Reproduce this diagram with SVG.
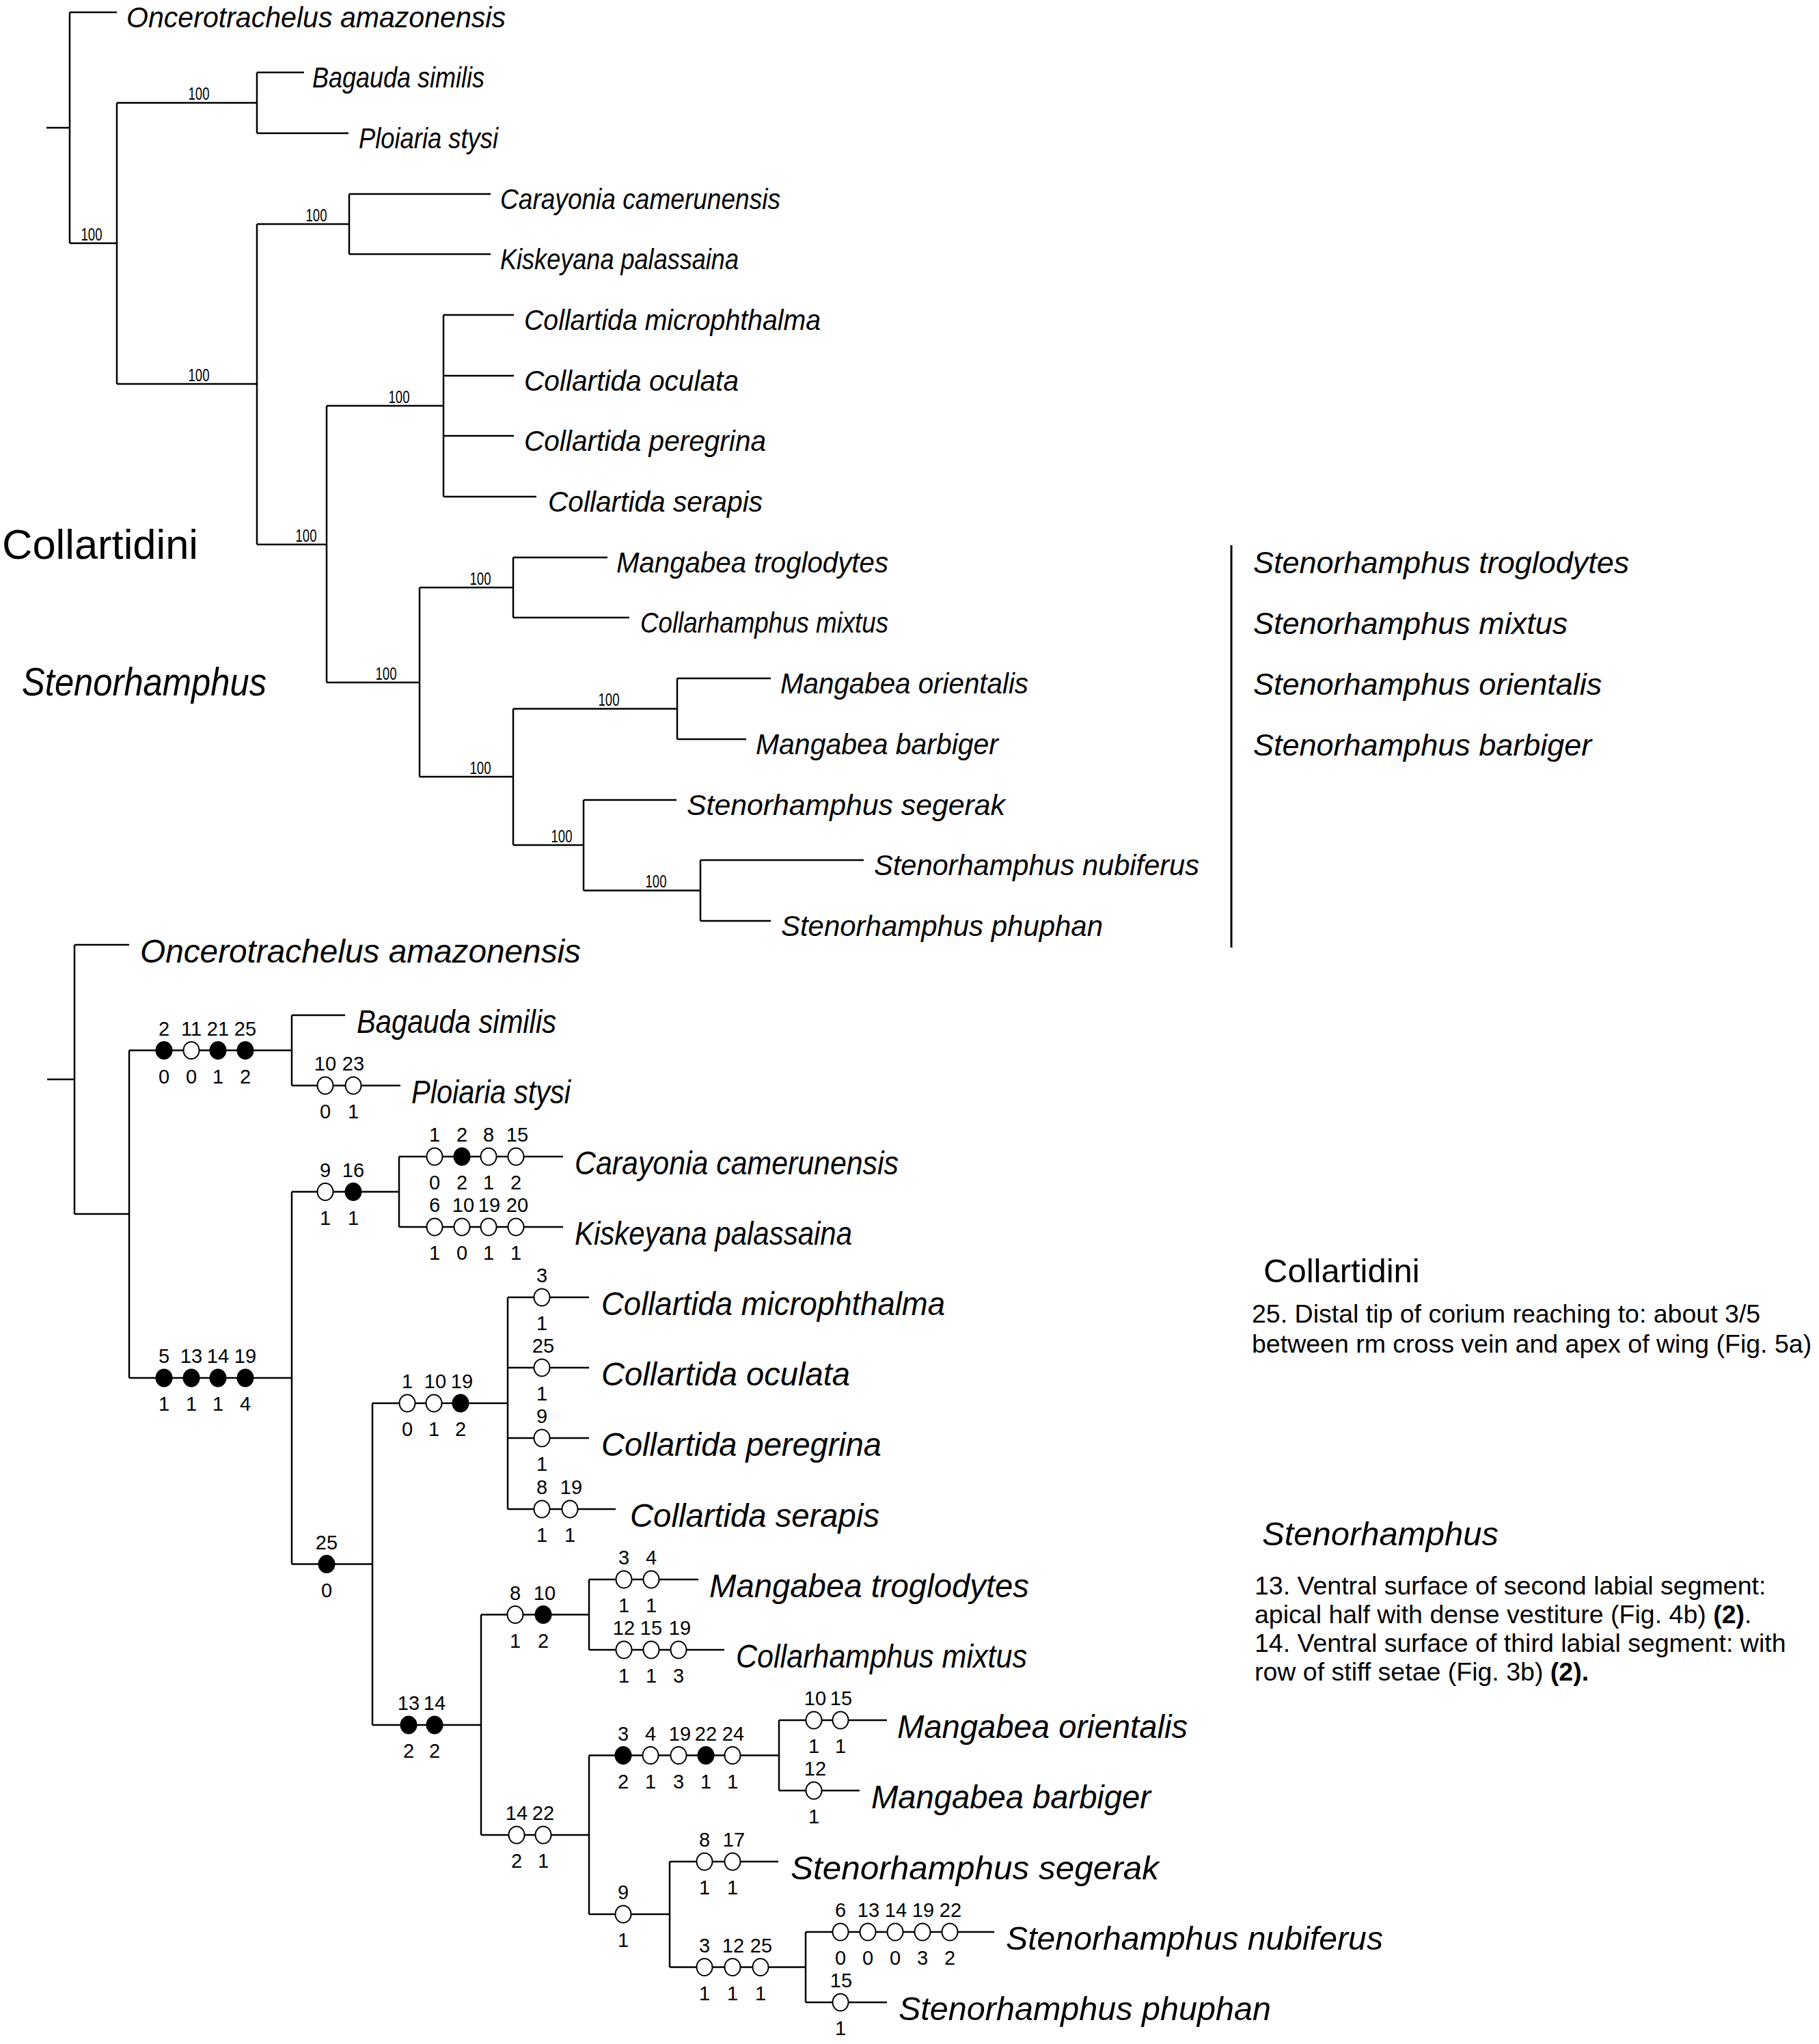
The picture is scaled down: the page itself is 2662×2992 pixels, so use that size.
<svg xmlns="http://www.w3.org/2000/svg" width="2662" height="2992" viewBox="0 0 2662 2992">
<style>
.br{stroke:#000;stroke-width:2.5;fill:none}
.bar{stroke:#000;stroke-width:3;fill:none}
.t{font-family:"Liberation Sans",Arial,sans-serif;font-style:italic;fill:#000}
.tt{font-size:43px}
.tb{font-size:48px}
.bs{font-family:"Liberation Sans",Arial,sans-serif;font-size:26px;text-anchor:middle;fill:#000}
.c{font-family:"Liberation Sans",Arial,sans-serif;font-size:29px;text-anchor:middle;fill:#000}
.o{fill:#fff;stroke:#000;stroke-width:2}
.f{fill:#000;stroke:#000;stroke-width:2}
.n{font-family:"Liberation Sans",Arial,sans-serif;fill:#000}
</style>
<rect width="2662" height="2992" fill="#fff"/>
<g id="connectors">
<path class="br" d="M68 187H102 M102 18V356 M102 18H171 M102 356H171 M171 150.5V562 M171 150.5H376 M376 106V195 M376 106H445 M376 195H510 M171 562H376 M376 328V797 M376 328H511 M511 284V372 M511 284H718 M511 372H718 M376 797H478 M478 594V999 M478 594H649 M649 461V727 M649 461H752 M649 550H752 M649 638H752 M649 727H785 M478 999H614 M614 860V1137 M614 860H751 M751 816V904 M751 816H889 M751 904H921 M614 1137H751 M751 1037.5V1237 M751 1037.5H991 M991 993V1082 M991 993H1128 M991 1082H1092 M751 1237H854 M854 1171V1303.5 M854 1171H990 M854 1303.5H1025 M1025 1259V1348 M1025 1259H1264 M1025 1348H1128"/>
<path class="bar" d="M1802 798V1387"/>
<path class="br" d="M69 1580H109 M109 1383V1777 M109 1383H189 M109 1777H189 M189 1537.5V2017 M189 1537.5H427 M427 1486V1589 M427 1486H505 M427 1589H586 M189 2017H427 M427 1744.5V2289.5 M427 1744.5H584 M584 1693V1796 M584 1693H824 M584 1796H824 M427 2289.5H545 M545 2054V2525 M545 2054H743 M743 1899V2209 M743 1899H862 M743 2002H862 M743 2105H862 M743 2209H901 M545 2525H704 M704 2363.5V2686 M704 2363.5H862 M862 2312V2415 M862 2312H1022 M862 2415H1060 M704 2686H862 M862 2569.5V2802 M862 2569.5H1140 M1140 2518V2621 M1140 2518H1298 M1140 2621H1258 M862 2802H980 M980 2725V2879.5 M980 2725H1139 M980 2879.5H1179 M1179 2828V2931 M1179 2828H1455 M1179 2931H1298"/>
</g>
<g id="top-tree">
<g id="top-support">
<text class="bs" x="134" y="352" textLength="31" lengthAdjust="spacingAndGlyphs">100</text>
<text class="bs" x="291" y="146" textLength="31" lengthAdjust="spacingAndGlyphs">100</text>
<text class="bs" x="291" y="558" textLength="31" lengthAdjust="spacingAndGlyphs">100</text>
<text class="bs" x="463" y="324" textLength="31" lengthAdjust="spacingAndGlyphs">100</text>
<text class="bs" x="448" y="793" textLength="31" lengthAdjust="spacingAndGlyphs">100</text>
<text class="bs" x="584" y="590" textLength="31" lengthAdjust="spacingAndGlyphs">100</text>
<text class="bs" x="565" y="995" textLength="31" lengthAdjust="spacingAndGlyphs">100</text>
<text class="bs" x="703" y="856" textLength="31" lengthAdjust="spacingAndGlyphs">100</text>
<text class="bs" x="703" y="1133" textLength="31" lengthAdjust="spacingAndGlyphs">100</text>
<text class="bs" x="891" y="1033" textLength="31" lengthAdjust="spacingAndGlyphs">100</text>
<text class="bs" x="822" y="1233" textLength="31" lengthAdjust="spacingAndGlyphs">100</text>
<text class="bs" x="960" y="1299" textLength="31" lengthAdjust="spacingAndGlyphs">100</text>
</g>
<g id="top-oncerotrachelus"><text class="t tt" x="185" y="40" textLength="555" lengthAdjust="spacingAndGlyphs">Oncerotrachelus amazonensis</text></g>
<g id="top-bagauda"><text class="t tt" x="457" y="128" textLength="252" lengthAdjust="spacingAndGlyphs">Bagauda similis</text></g>
<g id="top-ploiaria"><text class="t tt" x="525" y="217" textLength="204" lengthAdjust="spacingAndGlyphs">Ploiaria stysi</text></g>
<g id="top-carayonia"><text class="t tt" x="732" y="306" textLength="410" lengthAdjust="spacingAndGlyphs">Carayonia camerunensis</text></g>
<g id="top-kiskeyana"><text class="t tt" x="732" y="394" textLength="349" lengthAdjust="spacingAndGlyphs">Kiskeyana palassaina</text></g>
<g id="top-microphthalma"><text class="t tt" x="767" y="483" textLength="434" lengthAdjust="spacingAndGlyphs">Collartida microphthalma</text></g>
<g id="top-oculata"><text class="t tt" x="767" y="572" textLength="314" lengthAdjust="spacingAndGlyphs">Collartida oculata</text></g>
<g id="top-peregrina"><text class="t tt" x="767" y="660" textLength="354" lengthAdjust="spacingAndGlyphs">Collartida peregrina</text></g>
<g id="top-serapis"><text class="t tt" x="802" y="749" textLength="314" lengthAdjust="spacingAndGlyphs">Collartida serapis</text></g>
<g id="top-troglodytes"><text class="t tt" x="902" y="838" textLength="398" lengthAdjust="spacingAndGlyphs">Mangabea troglodytes</text></g>
<g id="top-mixtus"><text class="t tt" x="937" y="926" textLength="363" lengthAdjust="spacingAndGlyphs">Collarhamphus mixtus</text></g>
<g id="top-orientalis"><text class="t tt" x="1142" y="1015" textLength="363" lengthAdjust="spacingAndGlyphs">Mangabea orientalis</text></g>
<g id="top-barbiger"><text class="t tt" x="1106" y="1104" textLength="355" lengthAdjust="spacingAndGlyphs">Mangabea barbiger</text></g>
<g id="top-segerak"><text class="t tt" x="1005" y="1193" textLength="466" lengthAdjust="spacingAndGlyphs">Stenorhamphus segerak</text></g>
<g id="top-nubiferus"><text class="t tt" x="1279" y="1281" textLength="476" lengthAdjust="spacingAndGlyphs">Stenorhamphus nubiferus</text></g>
<g id="top-phuphan"><text class="t tt" x="1143" y="1370" textLength="471" lengthAdjust="spacingAndGlyphs">Stenorhamphus phuphan</text></g>
<g id="label-collartidini"><text class="n" x="3" y="818" font-size="61" textLength="287" lengthAdjust="spacingAndGlyphs">Collartidini</text></g>
<g id="label-stenorhamphus"><text class="t" x="32" y="1018" font-size="58" textLength="358" lengthAdjust="spacingAndGlyphs">Stenorhamphus</text></g>
<g id="new-names" class="t" font-size="45">
<text x="1834" y="839">Stenorhamphus troglodytes</text>
<text x="1834" y="928">Stenorhamphus mixtus</text>
<text x="1834" y="1017">Stenorhamphus orientalis</text>
<text x="1834" y="1106">Stenorhamphus barbiger</text>
</g>
</g>
<g id="bottom-tree">
<g id="b-oncerotrachelus"><text class="t tb" x="205" y="1409" textLength="645" lengthAdjust="spacingAndGlyphs">Oncerotrachelus amazonensis</text></g>
<g id="b-node-bagauda-ploiaria">
<ellipse class="f" cx="240" cy="1537.5" rx="11.5" ry="12.5"/><ellipse class="o" cx="280" cy="1537.5" rx="11.5" ry="12.5"/><ellipse class="f" cx="319" cy="1537.5" rx="11.5" ry="12.5"/><ellipse class="f" cx="359" cy="1537.5" rx="11.5" ry="12.5"/>
<text class="c" x="240" y="1515.5">2</text><text class="c" x="280" y="1515.5">11</text><text class="c" x="319" y="1515.5">21</text><text class="c" x="359" y="1515.5">25</text>
<text class="c" x="240" y="1585.5">0</text><text class="c" x="280" y="1585.5">0</text><text class="c" x="319" y="1585.5">1</text><text class="c" x="359" y="1585.5">2</text>
</g>
<g id="b-bagauda"><text class="t tb" x="522" y="1512" textLength="292" lengthAdjust="spacingAndGlyphs">Bagauda similis</text></g>
<g id="b-ploiaria">
<ellipse class="o" cx="476" cy="1589" rx="11.5" ry="12.5"/><ellipse class="o" cx="517" cy="1589" rx="11.5" ry="12.5"/>
<text class="c" x="476" y="1567">10</text><text class="c" x="517" y="1567">23</text>
<text class="c" x="476" y="1637">0</text><text class="c" x="517" y="1637">1</text>
<text class="t tb" x="602" y="1615" textLength="233" lengthAdjust="spacingAndGlyphs">Ploiaria stysi</text>
</g>
<g id="b-node-collartidini-group">
<ellipse class="f" cx="240" cy="2017" rx="11.5" ry="12.5"/><ellipse class="f" cx="280" cy="2017" rx="11.5" ry="12.5"/><ellipse class="f" cx="319" cy="2017" rx="11.5" ry="12.5"/><ellipse class="f" cx="359" cy="2017" rx="11.5" ry="12.5"/>
<text class="c" x="240" y="1995">5</text><text class="c" x="280" y="1995">13</text><text class="c" x="319" y="1995">14</text><text class="c" x="359" y="1995">19</text>
<text class="c" x="240" y="2065">1</text><text class="c" x="280" y="2065">1</text><text class="c" x="319" y="2065">1</text><text class="c" x="359" y="2065">4</text>
</g>
<g id="b-node-carayonia-kiskeyana">
<ellipse class="o" cx="476" cy="1744.5" rx="11.5" ry="12.5"/><ellipse class="f" cx="517" cy="1744.5" rx="11.5" ry="12.5"/>
<text class="c" x="476" y="1722.5">9</text><text class="c" x="517" y="1722.5">16</text>
<text class="c" x="476" y="1792.5">1</text><text class="c" x="517" y="1792.5">1</text>
</g>
<g id="b-carayonia">
<ellipse class="o" cx="636" cy="1693" rx="11.5" ry="12.5"/><ellipse class="f" cx="676" cy="1693" rx="11.5" ry="12.5"/><ellipse class="o" cx="715" cy="1693" rx="11.5" ry="12.5"/><ellipse class="o" cx="755" cy="1693" rx="11.5" ry="12.5"/>
<text class="c" x="636" y="1671">1</text><text class="c" x="676" y="1671">2</text><text class="c" x="715" y="1671">8</text><text class="c" x="757" y="1671">15</text>
<text class="c" x="636" y="1741">0</text><text class="c" x="676" y="1741">2</text><text class="c" x="715" y="1741">1</text><text class="c" x="755" y="1741">2</text>
<text class="t tb" x="841" y="1719" textLength="474" lengthAdjust="spacingAndGlyphs">Carayonia camerunensis</text>
</g>
<g id="b-kiskeyana">
<ellipse class="o" cx="636" cy="1796" rx="11.5" ry="12.5"/><ellipse class="o" cx="676" cy="1796" rx="11.5" ry="12.5"/><ellipse class="o" cx="715" cy="1796" rx="11.5" ry="12.5"/><ellipse class="o" cx="755" cy="1796" rx="11.5" ry="12.5"/>
<text class="c" x="636" y="1774">6</text><text class="c" x="678" y="1774">10</text><text class="c" x="716" y="1774">19</text><text class="c" x="757" y="1774">20</text>
<text class="c" x="636" y="1844">1</text><text class="c" x="676" y="1844">0</text><text class="c" x="715" y="1844">1</text><text class="c" x="755" y="1844">1</text>
<text class="t tb" x="841" y="1822" textLength="406" lengthAdjust="spacingAndGlyphs">Kiskeyana palassaina</text>
</g>
<g id="b-node-25">
<ellipse class="f" cx="478" cy="2289.5" rx="11.5" ry="12.5"/>
<text class="c" x="478" y="2267.5">25</text><text class="c" x="478" y="2337.5">0</text>
</g>
<g id="b-node-collartida">
<ellipse class="o" cx="596" cy="2054" rx="11.5" ry="12.5"/><ellipse class="o" cx="635" cy="2054" rx="11.5" ry="12.5"/><ellipse class="f" cx="674" cy="2054" rx="11.5" ry="12.5"/>
<text class="c" x="596" y="2032">1</text><text class="c" x="637" y="2032">10</text><text class="c" x="676" y="2032">19</text>
<text class="c" x="596" y="2102">0</text><text class="c" x="635" y="2102">1</text><text class="c" x="674" y="2102">2</text>
</g>
<g id="b-microphthalma">
<ellipse class="o" cx="793" cy="1899" rx="11.5" ry="12.5"/>
<text class="c" x="793" y="1877">3</text><text class="c" x="793" y="1947">1</text>
<text class="t tb" x="880" y="1925" textLength="503" lengthAdjust="spacingAndGlyphs">Collartida microphthalma</text>
</g>
<g id="b-oculata">
<ellipse class="o" cx="793" cy="2002" rx="11.5" ry="12.5"/>
<text class="c" x="795" y="1980">25</text><text class="c" x="793" y="2050">1</text>
<text class="t tb" x="880" y="2028" textLength="364" lengthAdjust="spacingAndGlyphs">Collartida oculata</text>
</g>
<g id="b-peregrina">
<ellipse class="o" cx="793" cy="2105" rx="11.5" ry="12.5"/>
<text class="c" x="793" y="2083">9</text><text class="c" x="793" y="2153">1</text>
<text class="t tb" x="880" y="2131" textLength="410" lengthAdjust="spacingAndGlyphs">Collartida peregrina</text>
</g>
<g id="b-serapis">
<ellipse class="o" cx="793" cy="2209" rx="11.5" ry="12.5"/><ellipse class="o" cx="834" cy="2209" rx="11.5" ry="12.5"/>
<text class="c" x="793" y="2187">8</text><text class="c" x="836" y="2187">19</text>
<text class="c" x="793" y="2257">1</text><text class="c" x="834" y="2257">1</text>
<text class="t tb" x="922" y="2235" textLength="365" lengthAdjust="spacingAndGlyphs">Collartida serapis</text>
</g>
<g id="b-node-stenorhamphus">
<ellipse class="f" cx="598" cy="2525" rx="11.5" ry="12.5"/><ellipse class="f" cx="636" cy="2525" rx="11.5" ry="12.5"/>
<text class="c" x="598" y="2503">13</text><text class="c" x="636" y="2503">14</text>
<text class="c" x="598" y="2573">2</text><text class="c" x="636" y="2573">2</text>
</g>
<g id="b-node-trog-mixtus">
<ellipse class="o" cx="754" cy="2363.5" rx="11.5" ry="12.5"/><ellipse class="f" cx="795" cy="2363.5" rx="11.5" ry="12.5"/>
<text class="c" x="754" y="2341.5">8</text><text class="c" x="797" y="2341.5">10</text>
<text class="c" x="754" y="2411.5">1</text><text class="c" x="795" y="2411.5">2</text>
</g>
<g id="b-troglodytes">
<ellipse class="o" cx="913" cy="2312" rx="11.5" ry="12.5"/><ellipse class="o" cx="953" cy="2312" rx="11.5" ry="12.5"/>
<text class="c" x="913" y="2290">3</text><text class="c" x="953" y="2290">4</text>
<text class="c" x="913" y="2360">1</text><text class="c" x="953" y="2360">1</text>
<text class="t tb" x="1038" y="2338" textLength="468" lengthAdjust="spacingAndGlyphs">Mangabea troglodytes</text>
</g>
<g id="b-mixtus">
<ellipse class="o" cx="913" cy="2415" rx="11.5" ry="12.5"/><ellipse class="o" cx="953" cy="2415" rx="11.5" ry="12.5"/><ellipse class="o" cx="993" cy="2415" rx="11.5" ry="12.5"/>
<text class="c" x="913" y="2393">12</text><text class="c" x="953" y="2393">15</text><text class="c" x="995" y="2393">19</text>
<text class="c" x="913" y="2463">1</text><text class="c" x="953" y="2463">1</text><text class="c" x="993" y="2463">3</text>
<text class="t tb" x="1077" y="2441" textLength="426" lengthAdjust="spacingAndGlyphs">Collarhamphus mixtus</text>
</g>
<g id="b-node-14-22">
<ellipse class="o" cx="756" cy="2686" rx="11.5" ry="12.5"/><ellipse class="o" cx="795" cy="2686" rx="11.5" ry="12.5"/>
<text class="c" x="756" y="2664">14</text><text class="c" x="795" y="2664">22</text>
<text class="c" x="756" y="2734">2</text><text class="c" x="795" y="2734">1</text>
</g>
<g id="b-node-orientalis-barbiger">
<ellipse class="f" cx="912" cy="2569.5" rx="11.5" ry="12.5"/><ellipse class="o" cx="952" cy="2569.5" rx="11.5" ry="12.5"/><ellipse class="o" cx="993" cy="2569.5" rx="11.5" ry="12.5"/><ellipse class="f" cx="1033" cy="2569.5" rx="11.5" ry="12.5"/><ellipse class="o" cx="1072" cy="2569.5" rx="11.5" ry="12.5"/>
<text class="c" x="912" y="2547.5">3</text><text class="c" x="952" y="2547.5">4</text><text class="c" x="995" y="2547.5">19</text><text class="c" x="1033" y="2547.5">22</text><text class="c" x="1073" y="2547.5">24</text>
<text class="c" x="912" y="2617.5">2</text><text class="c" x="952" y="2617.5">1</text><text class="c" x="993" y="2617.5">3</text><text class="c" x="1033" y="2617.5">1</text><text class="c" x="1072" y="2617.5">1</text>
</g>
<g id="b-orientalis">
<ellipse class="o" cx="1191" cy="2518" rx="11.5" ry="12.5"/><ellipse class="o" cx="1230" cy="2518" rx="11.5" ry="12.5"/>
<text class="c" x="1193" y="2496">10</text><text class="c" x="1231" y="2496">15</text>
<text class="c" x="1191" y="2566">1</text><text class="c" x="1230" y="2566">1</text>
<text class="t tb" x="1313" y="2544" textLength="425" lengthAdjust="spacingAndGlyphs">Mangabea orientalis</text>
</g>
<g id="b-barbiger">
<ellipse class="o" cx="1191" cy="2621" rx="11.5" ry="12.5"/>
<text class="c" x="1193" y="2599">12</text><text class="c" x="1191" y="2669">1</text>
<text class="t tb" x="1275" y="2647" textLength="409" lengthAdjust="spacingAndGlyphs">Mangabea barbiger</text>
</g>
<g id="b-node-9">
<ellipse class="o" cx="912" cy="2802" rx="11.5" ry="12.5"/>
<text class="c" x="912" y="2780">9</text><text class="c" x="912" y="2850">1</text>
</g>
<g id="b-segerak">
<ellipse class="o" cx="1031" cy="2725" rx="11.5" ry="12.5"/><ellipse class="o" cx="1072" cy="2725" rx="11.5" ry="12.5"/>
<text class="c" x="1031" y="2703">8</text><text class="c" x="1074" y="2703">17</text>
<text class="c" x="1031" y="2773">1</text><text class="c" x="1072" y="2773">1</text>
<text class="t tb" x="1157" y="2751" textLength="539" lengthAdjust="spacingAndGlyphs">Stenorhamphus segerak</text>
</g>
<g id="b-node-nubiferus-phuphan">
<ellipse class="o" cx="1031" cy="2879.5" rx="11.5" ry="12.5"/><ellipse class="o" cx="1072" cy="2879.5" rx="11.5" ry="12.5"/><ellipse class="o" cx="1113" cy="2879.5" rx="11.5" ry="12.5"/>
<text class="c" x="1031" y="2857.5">3</text><text class="c" x="1073" y="2857.5">12</text><text class="c" x="1114" y="2857.5">25</text>
<text class="c" x="1031" y="2927.5">1</text><text class="c" x="1072" y="2927.5">1</text><text class="c" x="1113" y="2927.5">1</text>
</g>
<g id="b-nubiferus">
<ellipse class="o" cx="1230" cy="2828" rx="11.5" ry="12.5"/><ellipse class="o" cx="1270" cy="2828" rx="11.5" ry="12.5"/><ellipse class="o" cx="1310" cy="2828" rx="11.5" ry="12.5"/><ellipse class="o" cx="1350" cy="2828" rx="11.5" ry="12.5"/><ellipse class="o" cx="1390" cy="2828" rx="11.5" ry="12.5"/>
<text class="c" x="1230" y="2806">6</text><text class="c" x="1271" y="2806">13</text><text class="c" x="1311" y="2806">14</text><text class="c" x="1351" y="2806">19</text><text class="c" x="1391" y="2806">22</text>
<text class="c" x="1230" y="2876">0</text><text class="c" x="1270" y="2876">0</text><text class="c" x="1310" y="2876">0</text><text class="c" x="1350" y="2876">3</text><text class="c" x="1390" y="2876">2</text>
<text class="t tb" x="1472" y="2854" textLength="552" lengthAdjust="spacingAndGlyphs">Stenorhamphus nubiferus</text>
</g>
<g id="b-phuphan">
<ellipse class="o" cx="1230" cy="2931" rx="11.5" ry="12.5"/>
<text class="c" x="1231" y="2909">15</text><text class="c" x="1230" y="2979">1</text>
<text class="t tb" x="1315" y="2957" textLength="545" lengthAdjust="spacingAndGlyphs">Stenorhamphus phuphan</text>
</g>
</g>
<g id="legend-collartidini">
<text class="n" x="1849" y="1877" font-size="49">Collartidini</text>
<text class="n" x="1832" y="1936" font-size="37.5">25. Distal tip of corium reaching to: about 3/5</text>
<text class="n" x="1832" y="1980" font-size="37.5">between rm cross vein and apex of wing (Fig. 5a)</text>
</g>
<g id="legend-stenorhamphus">
<text class="t" x="1847" y="2262" font-size="49">Stenorhamphus</text>
<text class="n" x="1836" y="2334" font-size="37.5">13. Ventral surface of second labial segment:</text>
<text class="n" x="1836" y="2376" font-size="37.5">apical half with dense vestiture (Fig. 4b) <tspan font-weight="bold">(2)</tspan>.</text>
<text class="n" x="1836" y="2418" font-size="37.5">14. Ventral surface of third labial segment: with</text>
<text class="n" x="1836" y="2460" font-size="37.5">row of stiff setae (Fig. 3b) <tspan font-weight="bold">(2).</tspan></text>
</g>
</svg>
